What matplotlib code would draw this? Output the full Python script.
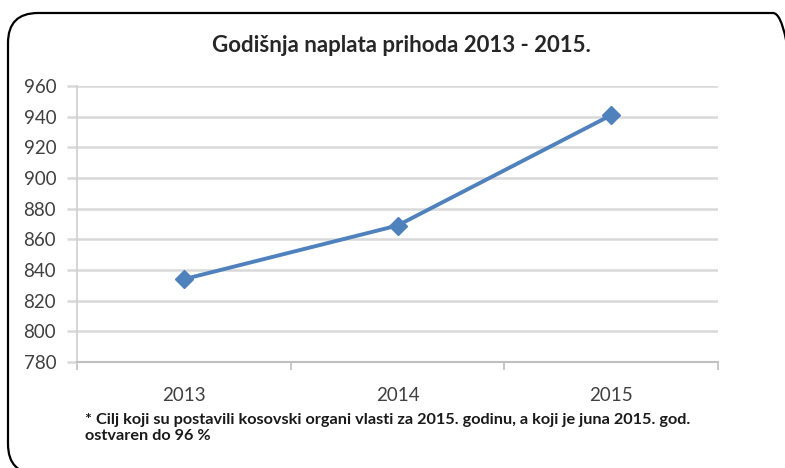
import matplotlib.pyplot as plt
from matplotlib.patches import FancyBboxPatch

# Data
years = ['2013', '2014', '2015']
naplata = [834, 869, 941]
y_ticks = [780, 800, 820, 840, 860, 880, 900, 920, 940, 960]

plt.rcParams['font.family'] = ['Lato', 'DejaVu Sans']

fig = plt.figure(figsize=(7.85, 4.68), dpi=100)

# overlay in pixel units for the rounded frame
bg = fig.add_axes([0, 0, 1, 1])
bg.set_xlim(0, 785)
bg.set_ylim(0, 468)
bg.axis('off')
frame = FancyBboxPatch((8, -6), 795, 461,
                       boxstyle='round,pad=0,rounding_size=30',
                       fill=False, edgecolor='black', linewidth=1.6,
                       clip_on=True)
bg.add_patch(frame)

ax = fig.add_axes([77 / 785, 1 - 362 / 468, (718 - 77) / 785, (362 - 86) / 468])

x = range(len(years))
ax.plot(x, naplata, color='#4F81BD', linewidth=2.8, marker='D', markersize=9.5,
        zorder=3)

ax.set_xlim(-0.5, len(years) - 0.5)
ax.set_ylim(780, 960)
ax.set_yticks(y_ticks)
ax.set_xticks(list(x))
ax.set_xticklabels(years)
ax.set_xticks([-0.5, 0.5, 1.5, 2.5], minor=True)

ax.grid(axis='y', color='#D9D9D9', linewidth=1.8)
ax.set_axisbelow(True)
for side in ['top', 'right']:
    ax.spines[side].set_visible(False)
ax.spines['left'].set_color('#D0D0D0')
ax.spines['bottom'].set_color('#BFBFBF')
ax.spines['left'].set_linewidth(1.2)
ax.spines['bottom'].set_linewidth(1.5)

ax.tick_params(axis='y', length=7, color='#D9D9D9', width=1.8,
               labelsize=13.5, labelcolor='#404040', pad=8)
ax.tick_params(axis='x', which='major', length=0, labelsize=13.5,
               labelcolor='#404040', pad=18)
ax.tick_params(axis='x', which='minor', length=6, color='#BFBFBF', width=1.2)

fig.text(401 / 785, 1 - 45 / 468, 'Godišnja naplata prihoda 2013 - 2015.',
         ha='center', va='center', fontsize=16, fontweight='bold',
         color='#262626')

fig.text(85 / 785, 1 - 428 / 468,
         '* Cilj koji su postavili kosovski organi vlasti za 2015. godinu, a koji je juna 2015. god.\nostvaren do 96 %',
         ha='left', va='center', fontsize=11.7, fontweight='bold', color='#1a1a1a',
         linespacing=1.25)

fig.savefig('out.png', dpi=100)
